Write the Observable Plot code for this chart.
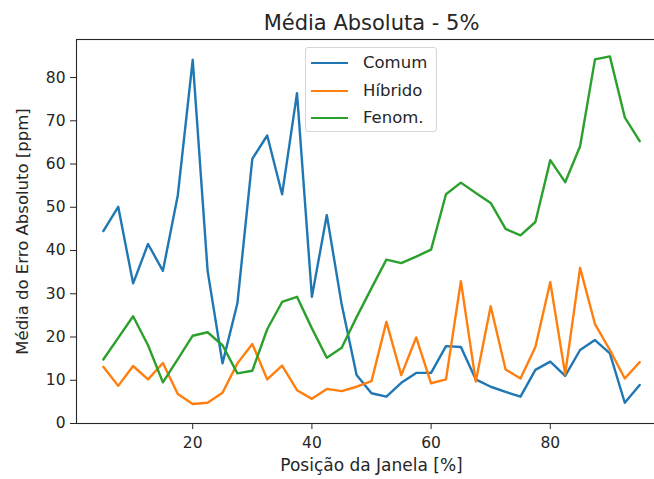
<!DOCTYPE html>
<html>
<head>
<meta charset="utf-8">
<script src="https://cdn.jsdelivr.net/npm/d3@7"></script>
<script src="https://cdn.jsdelivr.net/npm/@observablehq/plot@0.6"></script>
<style>
  html, body { margin: 0; padding: 0; background: #fff; overflow: hidden; }
  #wrap { position: relative; width: 654px; height: 479px; font-family: "DejaVu Sans", sans-serif; }
  #legend { position: absolute; left: 305px; top: 47px; width: 132px; height: 85px;
    border: 1px solid #d6d6d6; border-radius: 3px; background: rgba(255,255,255,0.8); box-sizing: border-box; }
  .row { position: absolute; left: 0; height: 0; }
  .row .ln { position: absolute; left: 5px; width: 37px; height: 0; border-top: 2.5px solid; top: -1px; }
  .row .tx { position: absolute; left: 57px; top: -10px; font-size: 16.5px; line-height: 20px; color: #262626; white-space: nowrap; }
</style>
</head>
<body>
<div id="wrap"></div>
<script>
const posicao = [5, 7.5, 10, 12.5, 15, 17.5, 20, 22.5, 25, 27.5, 30, 32.5, 35, 37.5, 40, 42.5, 45, 47.5, 50, 52.5, 55, 57.5, 60, 62.5, 65, 67.5, 70, 72.5, 75, 77.5, 80, 82.5, 85, 87.5, 90, 92.5, 95];
const comum = [44.5, 50.1, 32.4, 41.5, 35.3, 52.8, 84.1, 35.3, 13.9, 27.8, 61.2, 66.6, 53.0, 76.4, 29.3, 48.2, 27.5, 11.2, 7.0, 6.2, 9.4, 11.7, 11.7, 17.9, 17.7, 10.2, 8.5, 7.3, 6.2, 12.4, 14.3, 11.0, 17.0, 19.3, 16.2, 4.8, 8.9];
const hibrido = [13.1, 8.7, 13.3, 10.2, 14.0, 6.8, 4.5, 4.8, 7.1, 13.9, 18.4, 10.2, 13.4, 7.7, 5.7, 8.0, 7.5, 8.5, 9.8, 23.5, 11.2, 19.9, 9.3, 10.2, 32.9, 9.7, 27.1, 12.5, 10.4, 17.7, 32.7, 11.4, 36.0, 23.0, 17.0, 10.4, 14.2];
const fenom = [14.8, 19.8, 24.8, 18.1, 9.5, 14.9, 20.3, 21.1, 18.1, 11.6, 12.2, 21.8, 28.1, 29.3, 22.0, 15.2, 17.5, 24.6, 31.3, 37.9, 37.1, 38.6, 40.2, 53.0, 55.7, 53.3, 51.0, 45.0, 43.5, 46.6, 60.9, 55.8, 64.1, 84.2, 84.9, 70.8, 65.3];
const seriesNames = ["Comum", "Híbrido", "Fenom."];
const seriesColors = ["#1f77b4", "#ff7f0e", "#2ca02c"];
const xTicks = [20, 40, 60, 80];
const yTicks = [0, 10, 20, 30, 40, 50, 60, 70, 80];
const titleText = "Média Absoluta - 5%";
const xLabel = "Posição da Janela [%]";
const yLabel = "Média do Erro Absoluto [ppm]";

const seriesValues = [comum, hibrido, fenom];
const data = [];
seriesNames.forEach((name, i) => {
  posicao.forEach((x, j) => data.push({serie: name, x, y: seriesValues[i][j]}));
});

const chart = Plot.plot({
  width: 654,
  height: 479,
  marginLeft: 76,
  marginRight: -12,
  marginTop: 39,
  marginBottom: 56,
  style: {fontFamily: "DejaVu Sans, sans-serif", color: "#262626", background: "#fff"},
  x: {domain: [0.5, 99.5]},
  y: {domain: [0, 88.8]},
  color: {domain: seriesNames, range: seriesColors},
  marks: [
    Plot.line(data, {x: "x", y: "y", z: "serie", stroke: "serie", strokeWidth: 2.4, strokeLinejoin: "round"}),
    Plot.frame({stroke: "#262626", strokeWidth: 1.1}),
    Plot.axisX({ticks: xTicks, tickSize: 6, tickPadding: 7, fontSize: 15.5, label: null, stroke: "#262626"}),
    Plot.axisY({ticks: yTicks, tickSize: 6, tickPadding: 5, fontSize: 15.5, label: null, stroke: "#262626"}),
    Plot.text([xLabel], {frameAnchor: "bottom", dy: 47, fontSize: 17, fill: "#262626"}),
    Plot.text([yLabel], {frameAnchor: "left", textAnchor: "middle", dx: -54, rotate: -90, fontSize: 16.5, fill: "#262626"}),
    Plot.text([titleText], {frameAnchor: "top", dy: -24, fontSize: 21, fill: "#262626"})
  ]
});

const wrap = document.getElementById("wrap");
wrap.appendChild(chart);

const legend = document.createElement("div");
legend.id = "legend";
const rowTops = [15, 43, 70];
seriesNames.forEach((name, i) => {
  const row = document.createElement("div");
  row.className = "row";
  row.style.top = rowTops[i] + "px";
  const ln = document.createElement("div");
  ln.className = "ln";
  ln.style.borderTopColor = seriesColors[i];
  const tx = document.createElement("div");
  tx.className = "tx";
  tx.textContent = name;
  row.appendChild(ln);
  row.appendChild(tx);
  legend.appendChild(row);
});
wrap.appendChild(legend);
</script>
</body>
</html>
